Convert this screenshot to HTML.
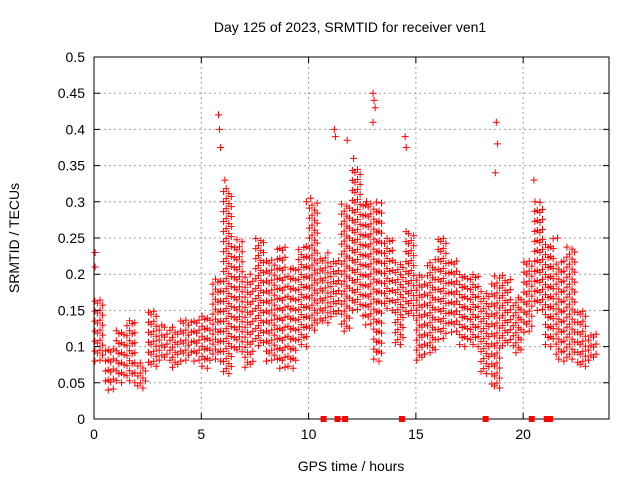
<!DOCTYPE html>
<html><head><meta charset="utf-8"><style>
body{margin:0;background:#fff}
svg{display:block;font-family:"Liberation Sans",sans-serif}
</style></head><body>
<svg id="chart" width="640" height="480" viewBox="0 0 640 480">
<text x="350" y="32" font-size="14" text-anchor="middle">Day 125 of 2023, SRMTID for receiver ven1</text>
<text x="351" y="471" font-size="14" text-anchor="middle">GPS time / hours</text>
<text transform="translate(19,238) rotate(-90)" font-size="14" text-anchor="middle">SRMTID / TECUs</text>
<g id="grid"></g>
<g id="marks"></g>
<g id="axes"></g>
</svg>
<script>
const binStart=[0,0.5,1,1.5,2,2.5,3,3.5,4,4.5,5,5.5,6,6.5,7,7.5,8,8.5,9,9.5,10,10.5,11,11.5,12,12.5,13,13.5,14,14.5,15,15.5,16,16.5,17,17.5,18,18.5,19,19.5,20,20.5,21,21.5,22,22.5,23];
const binLo=[0.08,0.04,0.05,0.05,0.04,0.07,0.08,0.07,0.08,0.08,0.07,0.08,0.06,0.09,0.07,0.1,0.08,0.07,0.07,0.1,0.12,0.13,0.14,0.12,0.15,0.13,0.08,0.15,0.1,0.14,0.08,0.09,0.11,0.12,0.1,0.1,0.06,0.04,0.1,0.09,0.12,0.15,0.1,0.08,0.08,0.07,0.08];
const binHi=[0.17,0.1,0.13,0.14,0.08,0.15,0.13,0.13,0.14,0.14,0.15,0.2,0.32,0.25,0.2,0.25,0.22,0.24,0.21,0.24,0.3,0.23,0.22,0.3,0.35,0.3,0.3,0.25,0.22,0.26,0.2,0.22,0.25,0.22,0.2,0.2,0.18,0.2,0.2,0.17,0.22,0.3,0.25,0.22,0.24,0.15,0.12];
const spikeT=[0.05,0.05,5.8,5.85,5.9,10.1,11.2,11.25,11.8,12.1,13.0,13.05,13.1,13.0,14.5,14.55,18.75,18.8,18.7,20.5,20.55,6.1,9.9,12.7,21.6];
const spikeV=[0.23,0.21,0.42,0.4,0.375,0.305,0.4,0.39,0.385,0.36,0.45,0.44,0.43,0.41,0.39,0.375,0.41,0.38,0.34,0.33,0.3,0.33,0.3,0.3,0.25];
const gapT=[10.7,11.35,11.7,14.35,18.25,20.4,21.1,21.25];
const yTicks=[0,0.05,0.1,0.15,0.2,0.25,0.3,0.35,0.4,0.45,0.5];
const yLabels=["0","0.05","0.1","0.15","0.2","0.25","0.3","0.35","0.4","0.45","0.5"];
const xTicks=[0,5,10,15,20];
const NS='http://www.w3.org/2000/svg';
const X0=94,X1=609,Y0=419,Y1=57;
const xs=h=>X0+h*(X1-X0)/24;
const ys=v=>Y0-v*(Y0-Y1)/0.5;
function mk(tag,attrs,parent){const e=document.createElementNS(NS,tag);for(const k in attrs)e.setAttribute(k,attrs[k]);parent.appendChild(e);return e;}
const grid=document.getElementById('grid'),axes=document.getElementById('axes'),marks=document.getElementById('marks');
yTicks.forEach((v,i)=>{
  const y=ys(v);
  if(i>0&&i<yTicks.length-1){const g=mk('line',{x1:X0,x2:X1,y1:y,y2:y,stroke:'#a0a0a0','stroke-dasharray':'2,3'},grid);
  
  }
  const t=mk('path',{d:`M${X0} ${y}h6M${X1} ${y}h-6`,stroke:'#000'},axes);
  
  
  const l=mk('text',{x:X0-9,y:y+5,'font-size':'14','text-anchor':'end'},axes);l.textContent=yLabels[i];
  
  
});
xTicks.forEach(h=>{
  const x=xs(h);
  if(h>0){const g=mk('line',{x1:x,x2:x,y1:Y1,y2:Y0,stroke:'#a0a0a0','stroke-dasharray':'2,3'},grid);
  
  }
  const t=mk('path',{d:`M${x} ${Y0}v-6M${x} ${Y1}v6`,stroke:'#000'},axes);
  
  
  const l=mk('text',{x:x,y:Y0+20,'font-size':'14','text-anchor':'middle'},axes);l.textContent=String(h);
  
  
});
const frame=mk('rect',{x:X0,y:Y1,width:X1-X0,height:Y0-Y1,fill:'none',stroke:'#000'},axes);


function cross(x,y){return `M${(x-3.5).toFixed(1)} ${y.toFixed(1)}h7M${x.toFixed(1)} ${(y-3.5).toFixed(1)}v7`;}
binStart.forEach((t,i)=>{
  let d='';
  const subs=[0.04,0.16,0.28,0.40];
  const phase=[0,6,2,8,4,9,1,7];
  subs.forEach((s,j)=>{
    const x=xs(t+s);
    const lo=ys(binLo[i]),hi=ys(binHi[i]);
    const ph=phase[(j*3+i*5)%8];
    for(let y=lo-ph;y>=hi;y-=10)d+=cross(x,y);
  });
  const p=mk('path',{d:d,stroke:'#f00','stroke-width':'1',fill:'none'},marks);
  
  
});
spikeT.forEach((t,i)=>{
  const p=mk('path',{d:cross(xs(t),ys(spikeV[i])),stroke:'#f00',fill:'none'},marks);
  
  
});
gapT.forEach(t=>{
  const r=mk('rect',{x:xs(t)-3,y:Y0-3,width:6,height:6,fill:'#f00'},axes);
  
  
});
</script>
</body></html>
